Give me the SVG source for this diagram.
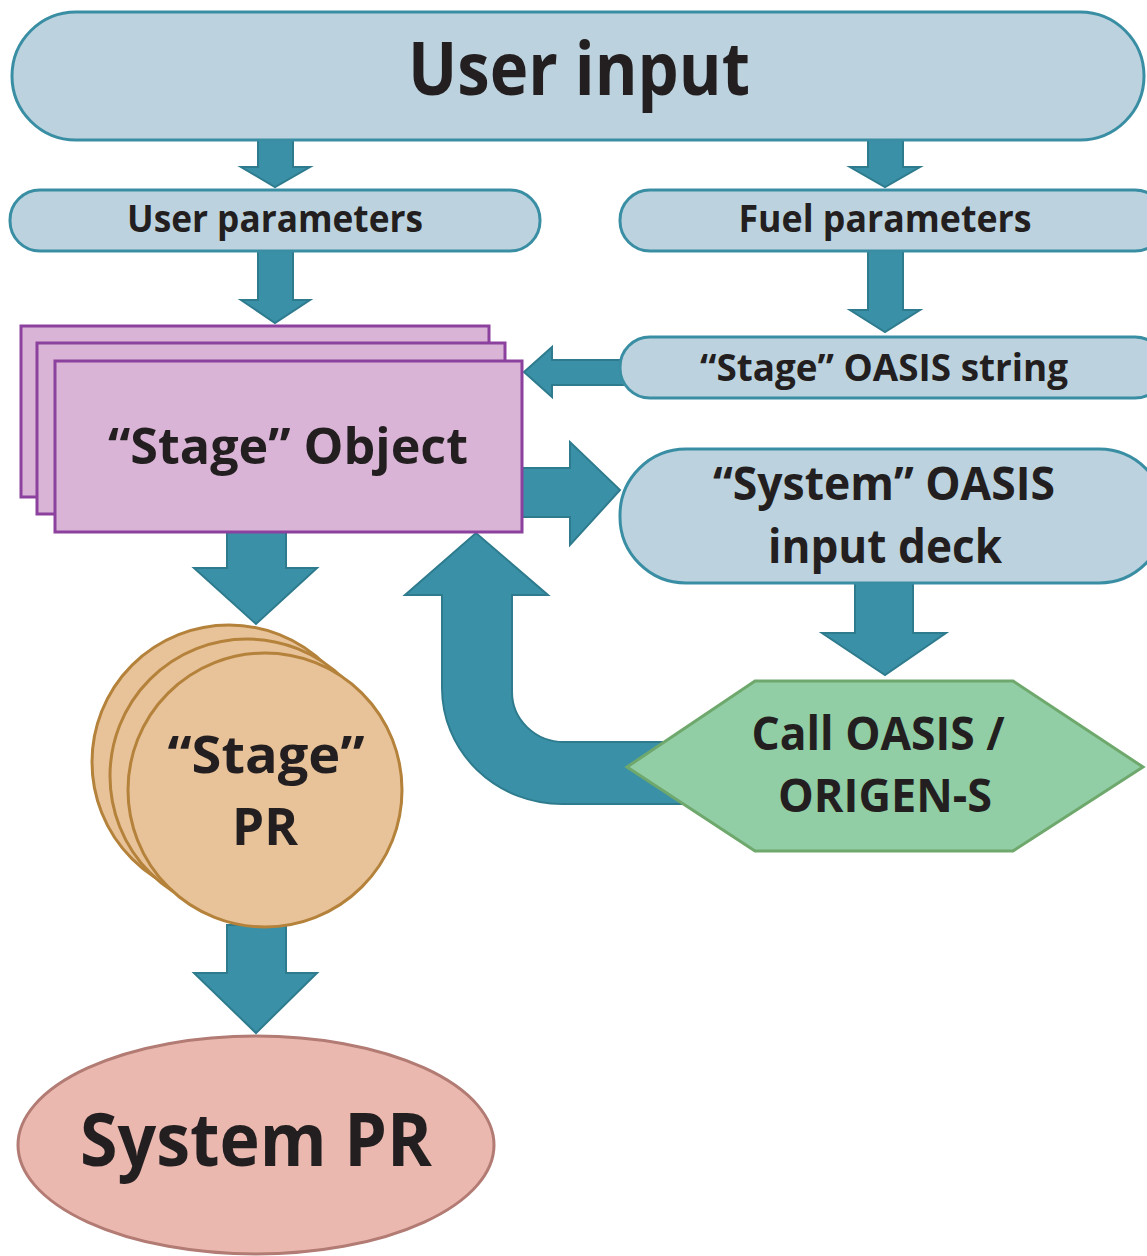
<svg xmlns="http://www.w3.org/2000/svg" width="1147" height="1256" viewBox="0 0 1147 1256">
<style>
.box{fill:#bcd3df;stroke:#3a8ea4;stroke-width:3}
.obj{fill:#dab4d6;stroke:#8b419d;stroke-width:3}
.pr{fill:#e8c299;stroke:#b4823a;stroke-width:3}
.sys{fill:#ebb8b0;stroke:#b27b73;stroke-width:3}
.hex{fill:#91cda5;stroke:#6fa86c;stroke-width:3}
.arr{fill:#3a91a7;stroke:#2e7b8e;stroke-width:2;stroke-linejoin:miter}
text{font-family:"Open Sans","Liberation Sans",sans-serif;font-weight:700;fill:#231f20;text-anchor:middle}
</style>
<rect width="1147" height="1256" fill="#ffffff"/>
<g id="connectors">
<polygon class="arr" points="258,140 293,140 293,167 310,167 275,187 241,167 258,167"/>
<polygon class="arr" points="868,140 903,140 903,167 920,167 885,187 850,167 868,167"/>
<polygon class="arr" points="258,251 293,251 293,300 310,300 275,323 241,300 258,300"/>
<polygon class="arr" points="868,251 903,251 903,310 920,310 885,332 850,310 868,310"/>
<polygon class="arr" points="630,360 552,360 552,347 524,372 552,397 552,385 630,385"/>
<polygon class="arr" points="520,468 570,468 570,442 620,490 570,545 570,517 520,517"/>
<polygon class="arr" points="855,583 913,583 913,633 946,633 885,675 822,633 855,633"/>
<polygon class="arr" points="227,532 286,532 286,568 317,568 256,624 194,568 227,568"/>
<polygon class="arr" points="227,925 286,925 286,973 317,973 256,1033 194,973 227,973"/>
<path class="arr" d="M700,804 L562,804 A120,116 0 0 1 442,688 L442,595 L405,595 L476,533 L548,595 L512,595 L512,692 A52,50 0 0 0 564,742 L700,742 Z"/>
</g>
<g id="user-input">
<rect class="box" x="12" y="12" width="1132" height="128" rx="64" ry="64"/>
<text x="579" y="95" font-size="74" textLength="342" lengthAdjust="spacingAndGlyphs">User input</text>
</g>
<g id="user-parameters">
<rect class="box" x="10" y="190" width="530" height="61" rx="30" ry="30"/>
<text x="275" y="232" font-size="37" textLength="296" lengthAdjust="spacingAndGlyphs">User parameters</text>
</g>
<g id="fuel-parameters">
<rect class="box" x="620" y="190" width="545" height="61" rx="30" ry="30"/>
<text x="885" y="232" font-size="37" textLength="293" lengthAdjust="spacingAndGlyphs">Fuel parameters</text>
</g>
<g id="stage-oasis-string">
<rect class="box" x="620" y="337" width="545" height="61" rx="30" ry="30"/>
<text x="884" y="381" font-size="38" textLength="368" lengthAdjust="spacingAndGlyphs">“Stage” OASIS string</text>
</g>
<g id="stage-object">
<rect class="obj" x="21" y="326" width="468" height="171"/>
<rect class="obj" x="37" y="343" width="468" height="171"/>
<rect class="obj" x="55" y="361" width="467" height="171"/>
<text x="288" y="464" font-size="50" textLength="360" lengthAdjust="spacingAndGlyphs">“Stage” Object</text>
</g>
<g id="system-oasis-input-deck">
<rect class="box" x="620" y="449" width="545" height="134" rx="66" ry="66"/>
<text x="884" y="500" font-size="47" textLength="342" lengthAdjust="spacingAndGlyphs">“System” OASIS</text>
<text x="885" y="563" font-size="47" textLength="234" lengthAdjust="spacingAndGlyphs">input deck</text>
</g>
<g id="call-oasis">
<polygon class="hex" points="627,767 755,681 1013,681 1143,767 1013,851 755,851"/>
<text x="878" y="750" font-size="47" textLength="253" lengthAdjust="spacingAndGlyphs">Call OASIS /</text>
<text x="885" y="812" font-size="47" textLength="214" lengthAdjust="spacingAndGlyphs">ORIGEN-S</text>
</g>
<g id="stage-pr">
<circle class="pr" cx="229" cy="762" r="137"/>
<circle class="pr" cx="247" cy="776" r="137"/>
<circle class="pr" cx="265" cy="790" r="137"/>
<text x="266" y="773" font-size="52" textLength="197" lengthAdjust="spacingAndGlyphs">“Stage”</text>
<text x="265" y="845" font-size="52" textLength="66" lengthAdjust="spacingAndGlyphs">PR</text>
</g>
<g id="system-pr">
<ellipse class="sys" cx="256" cy="1145" rx="238" ry="109"/>
<text x="256" y="1166" font-size="74" textLength="352" lengthAdjust="spacingAndGlyphs">System PR</text>
</g>
</svg>
